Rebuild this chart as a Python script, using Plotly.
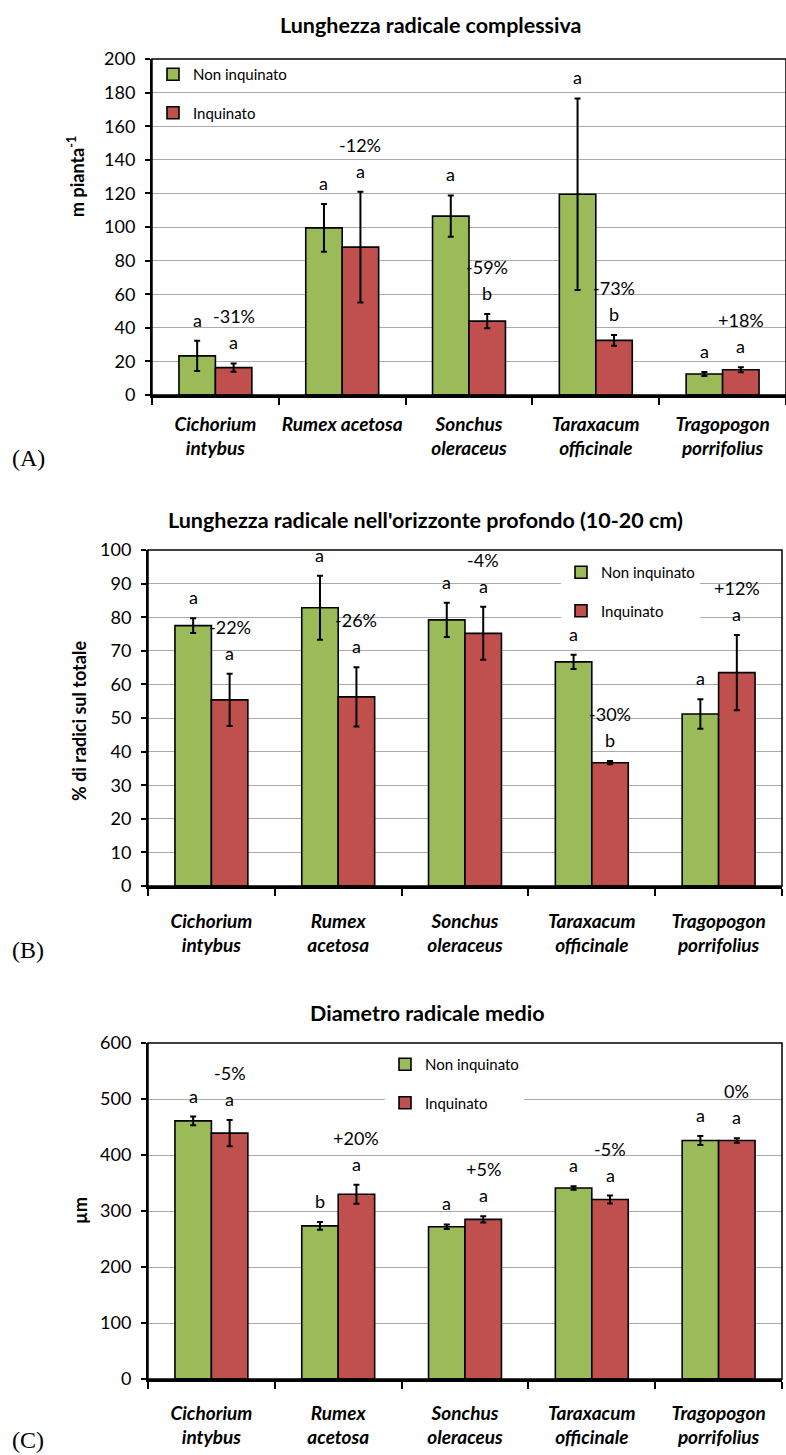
import plotly.graph_objects as go

W, H = 786, 1455

# ---- data -------------------------------------------------------------
species_a = ["Cichorium<br>intybus", "Rumex acetosa", "Sonchus<br>oleraceus",
             "Taraxacum<br>officinale", "Tragopogon<br>porrifolius"]
species_bc = ["Cichorium<br>intybus", "Rumex<br>acetosa", "Sonchus<br>oleraceus",
              "Taraxacum<br>officinale", "Tragopogon<br>porrifolius"]
series_names = ["Non inquinato", "Inquinato"]

# (A) total root length, m plant-1
len_tot_non = [23.3, 99.5, 106.5, 119.5, 12.5]
len_tot_non_err = [9.0, 14.2, 12.3, 57.0, 1.2]
len_tot_inq = [16.3, 88.0, 44.0, 32.5, 15.0]
len_tot_inq_err = [2.5, 33.0, 4.2, 3.2, 1.5]
len_tot_non_letters = ["a", "a", "a", "a", "a"]
len_tot_inq_letters = ["a", "a", "b", "b", "a"]
len_tot_change = ["-31%", "-12%", "-59%", "-73%", "+18%"]

# (B) share of root length in the deep layer (10-20 cm), %
deep_non = [77.5, 82.8, 79.2, 66.7, 51.2]
deep_non_err = [2.2, 9.5, 5.1, 2.1, 4.4]
deep_inq = [55.4, 56.3, 75.2, 36.7, 63.5]
deep_inq_err = [7.8, 8.8, 7.9, 0.5, 11.2]
deep_non_letters = ["a", "a", "a", "a", "a"]
deep_inq_letters = ["a", "a", "a", "b", "a"]
deep_change = ["-22%", "-26%", "-4%", "-30%", "+12%"]

# (C) mean root diameter, µm
diam_non = [461, 273.5, 272, 341, 426]
diam_non_err = [7.7, 7.0, 4.0, 3.0, 8.0]
diam_inq = [439, 330, 285, 320.5, 426]
diam_inq_err = [23.5, 17.0, 5.5, 7.0, 4.0]
diam_non_letters = ["a", "b", "a", "a", "a"]
diam_inq_letters = ["a", "a", "a", "a", "a"]
diam_change = ["-5%", "+20%", "+5%", "-5%", "0%"]

# ---- styling ----------------------------------------------------------
GREEN = "#9BBB59"
RED = "#C0504D"
FONT = "Lato"
GRID = "#ababab"
BARGAP = 0.425
HALF = (1 - BARGAP) / 4          # offset of each bar centre from the category centre


def px_x(p):
    return p / W


def px_y(p):
    return 1 - p / H


panels = [
    dict(tag="A", labels=species_a, non=len_tot_non, non_err=len_tot_non_err,
         inq=len_tot_inq, inq_err=len_tot_inq_err,
         non_let=len_tot_non_letters, inq_let=len_tot_inq_letters, change=len_tot_change,
         title="Lunghezza radicale complessiva", title_x=431, title_y=25,
         ytitle="m pianta<sup>-1</sup>", ytitle_x=76, ytitle_y=177,
         xdom=(152, 786), ydom=(59, 395), yrange=(0, 200), dtick=20,
         legend=dict(x=153, y=58, bg="rgba(0,0,0,0)"), letter_y=458, xlab_pad=10),
    dict(tag="B", labels=species_bc, non=deep_non, non_err=deep_non_err,
         inq=deep_inq, inq_err=deep_inq_err,
         non_let=deep_non_letters, inq_let=deep_inq_letters, change=deep_change,
         title="Lunghezza radicale nell'orizzonte profondo (10-20 cm)", title_x=425, title_y=520,
         ytitle="% di radici sul totale", ytitle_x=79, ytitle_y=721,
         xdom=(148, 782), ydom=(550, 886), yrange=(0, 100), dtick=10,
         legend=dict(x=561, y=556, bg="white"), letter_y=950, xlab_pad=16),
    dict(tag="C", labels=species_bc, non=diam_non, non_err=diam_non_err,
         inq=diam_inq, inq_err=diam_inq_err,
         non_let=diam_non_letters, inq_let=diam_inq_letters, change=diam_change,
         title="Diametro radicale medio", title_x=427, title_y=1013,
         ytitle="µm", ytitle_x=80, ytitle_y=1211,
         xdom=(148, 782), ydom=(1043, 1379), yrange=(0, 600), dtick=100,
         legend=dict(x=385, y=1048, bg="white"), letter_y=1440, xlab_pad=15),
]

fig = go.Figure()
annotations = []
shapes = []
layout_axes = {}

for k, p in enumerate(panels):
    n = k + 1
    xa = "x" if n == 1 else f"x{n}"
    ya = "y" if n == 1 else f"y{n}"
    leg = "legend" if n == 1 else f"legend{n}"
    xs = list(range(len(p["labels"])))

    for name, vals, errs, color in [(series_names[0], p["non"], p["non_err"], GREEN),
                                    (series_names[1], p["inq"], p["inq_err"], RED)]:
        fig.add_trace(go.Bar(
            x=xs, y=vals, name=name, xaxis=xa, yaxis=ya, legend=leg,
            legendgroup=f"{p['tag']}-{name}",
            marker=dict(color=color, line=dict(color="black", width=1.6)),
            error_y=dict(type="data", array=errs, visible=True,
                         color="black", thickness=2, width=3),
        ))

    # significance letters above each error bar and relative change above the pair
    for i in xs:
        top_non = p["non"][i] + p["non_err"][i]
        top_inq = p["inq"][i] + p["inq_err"][i]
        annotations.append(dict(x=i - HALF, y=top_non, xref=xa, yref=ya, text=p["non_let"][i],
                                showarrow=False, yanchor="middle", yshift=21,
                                font=dict(family=FONT, size=18, color="black")))
        annotations.append(dict(x=i + HALF, y=top_inq, xref=xa, yref=ya, text=p["inq_let"][i],
                                showarrow=False, yanchor="middle", yshift=21,
                                font=dict(family=FONT, size=18, color="black")))
        annotations.append(dict(x=i + HALF, y=top_inq, xref=xa, yref=ya, text=p["change"][i],
                                showarrow=False, yanchor="middle", yshift=47,
                                font=dict(family=FONT, size=18, color="black")))

    # chart title, y-axis title and panel letter
    annotations.append(dict(x=px_x(p["title_x"]), y=px_y(p["title_y"]), xref="paper", yref="paper",
                            text=f"<b>{p['title']}</b>", showarrow=False,
                            xanchor="center", yanchor="middle",
                            font=dict(family=FONT, size=21.5, color="black")))
    annotations.append(dict(x=px_x(p["ytitle_x"]), y=px_y(p["ytitle_y"]), xref="paper", yref="paper",
                            text=f"<b>{p['ytitle']}</b>", showarrow=False, textangle=-90,
                            xanchor="center", yanchor="middle",
                            font=dict(family=FONT, size=18, color="black")))
    annotations.append(dict(x=px_x(10), y=px_y(p["letter_y"]), xref="paper", yref="paper",
                            text=f"({p['tag']})", showarrow=False,
                            xanchor="left", yanchor="middle",
                            font=dict(family="Liberation Serif", size=24, color="black")))

    # plot-area frame
    shapes.append(dict(type="rect", xref=f"{xa} domain", yref=f"{ya} domain",
                       x0=0, x1=1, y0=0, y1=1, line=dict(color="black", width=1.5),
                       layer="above"))

    xkey = "xaxis" if n == 1 else f"xaxis{n}"
    ykey = "yaxis" if n == 1 else f"yaxis{n}"
    layout_axes[xkey] = dict(
        domain=[px_x(p["xdom"][0]), min(1.0, px_x(p["xdom"][1]))],
        anchor=ya, range=[-0.5, len(xs) - 0.5], automargin=False,
        tickmode="array", tickvals=xs,
        ticktext=[f"<b><i>{t}</i></b>" for t in p["labels"]],
        ticks="outside", ticklen=p["xlab_pad"], tickcolor="rgba(0,0,0,0)",
        minor=dict(tickmode="linear", tick0=0.5, dtick=1, ticks="outside",
                   ticklen=7, tickwidth=1.5, tickcolor="black", showgrid=False),
        showline=True, linecolor="black", linewidth=2.5,
        showgrid=False, zeroline=False,
        tickfont=dict(family=FONT, size=19, color="black"),
    )
    layout_axes[ykey] = dict(
        domain=[px_y(p["ydom"][1]), px_y(p["ydom"][0])],
        anchor=xa, range=list(p["yrange"]), dtick=p["dtick"], tick0=0, automargin=False,
        ticks="outside", ticklen=5, tickwidth=1.5, tickcolor="black", ticklabelstandoff=6,
        showline=True, linecolor="black", linewidth=2,
        showgrid=True, gridcolor=GRID, gridwidth=1.2, zeroline=False,
        tickfont=dict(family=FONT, size=18, color="black"),
    )
    lg = p["legend"]
    layout_axes[leg] = dict(
        x=px_x(lg["x"]), y=px_y(lg["y"]), xanchor="left", yanchor="top",
        bgcolor=lg["bg"], borderwidth=0, tracegroupgap=16,
        font=dict(family=FONT, size=15, color="black"),
        itemclick=False, itemdoubleclick=False,
    )

fig.update_layout(
    width=W, height=H,
    margin=dict(l=0, r=0, t=0, b=0, autoexpand=False),
    paper_bgcolor="white", plot_bgcolor="white",
    barmode="group", bargap=BARGAP, bargroupgap=0,
    showlegend=True,
    annotations=annotations, shapes=shapes,
    font=dict(family=FONT, color="black"),
    **layout_axes,
)

fig.write_html("out.html")
